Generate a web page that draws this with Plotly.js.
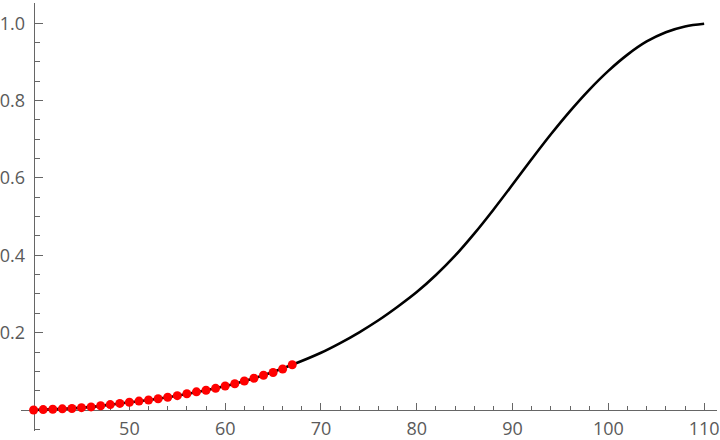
<!DOCTYPE html>
<html>
<head>
<meta charset="utf-8">
<script src="https://cdn.plot.ly/plotly-3.0.1.min.js"></script>
<style>html,body{margin:0;padding:0;background:#fff;}#chart{width:720px;height:440px;}</style>
</head>
<body>
<div id="chart"></div>
<script>
// Data points (red markers)
const pointX = [40,41,42,43,44,45,46,47,48,49,50,51,52,53,54,55,56,57,58,59,60,61,62,63,64,65,66,67];
const pointY = [0.000,0.001,0.002,0.003,0.004,0.006,0.008,0.011,0.014,0.017,0.020,0.023,0.026,0.029,0.033,0.037,0.042,0.047,0.051,0.056,0.062,0.068,0.075,0.082,0.090,0.097,0.106,0.117];

// Fitted curve (black line)
const curveX = [40,43,46,49,52,55,58,61,64,67,70,72,74,76,78,80,82,84,86,88,90,92,94,96,98,100,102,104,106,108,110];
const curveY = [0.000,0.003,0.008,0.017,0.026,0.037,0.051,0.068,0.090,0.117,0.148,0.173,0.201,0.232,0.267,0.305,0.349,0.399,0.456,0.518,0.583,0.649,0.713,0.773,0.828,0.877,0.919,0.953,0.977,0.992,0.999];

// Tick labels
const xTicks = [50,60,70,80,90,100,110];
const yTicks = [0.2,0.4,0.6,0.8,1.0];

const xRange = [38.685, 111.34];
const yRange = [-0.0543, 1.0525];

const axisColor = '#666666';
const labelFont = {family: 'Open Sans, sans-serif', size: 18, color: '#5a5a5a'};

const data = [
  {x: curveX, y: curveY, type: 'scatter', mode: 'lines',
   line: {color: '#000000', width: 2.6, shape: 'spline', smoothing: 1}, hoverinfo: 'skip'},
  {x: pointX, y: pointY, type: 'scatter', mode: 'markers', cliponaxis: false,
   marker: {color: '#ff0000', size: 9, line: {width: 0}}}
];

const layout = {
  width: 720, height: 440,
  margin: {l: 21, r: 3, t: 3, b: 9, pad: 0},
  paper_bgcolor: '#ffffff', plot_bgcolor: '#ffffff',
  showlegend: false,
  xaxis: {
    range: xRange, anchor: 'free',
    position: (0 - yRange[0]) / (yRange[1] - yRange[0]),
    side: 'bottom', layer: 'below traces',
    showgrid: false, zeroline: false,
    showline: true, linecolor: axisColor, linewidth: 1,
    tickmode: 'array', tickvals: xTicks, ticktext: xTicks.map(String),
    ticks: 'inside', ticklen: 7, tickwidth: 1, tickcolor: axisColor,
    ticklabelstandoff: 2,
    minor: {dtick: 2, tick0: 0, ticks: 'inside', ticklen: 4, tickwidth: 1, tickcolor: axisColor, showgrid: false},
    tickfont: labelFont
  },
  yaxis: {
    range: yRange, anchor: 'free',
    position: (40 - xRange[0]) / (xRange[1] - xRange[0]),
    side: 'left', layer: 'below traces',
    showgrid: false, zeroline: false,
    showline: true, linecolor: axisColor, linewidth: 1,
    tickmode: 'array', tickvals: yTicks, ticktext: yTicks.map(v => v.toFixed(1)),
    ticks: 'inside', ticklen: 8, tickwidth: 1, tickcolor: axisColor,
    ticklabelstandoff: 5,
    minor: {dtick: 0.05, tick0: 0, ticks: 'inside', ticklen: 5, tickwidth: 1, tickcolor: axisColor, showgrid: false},
    tickfont: labelFont
  }
};

Plotly.newPlot('chart', data, layout, {staticPlot: true});
</script>
</body>
</html>
